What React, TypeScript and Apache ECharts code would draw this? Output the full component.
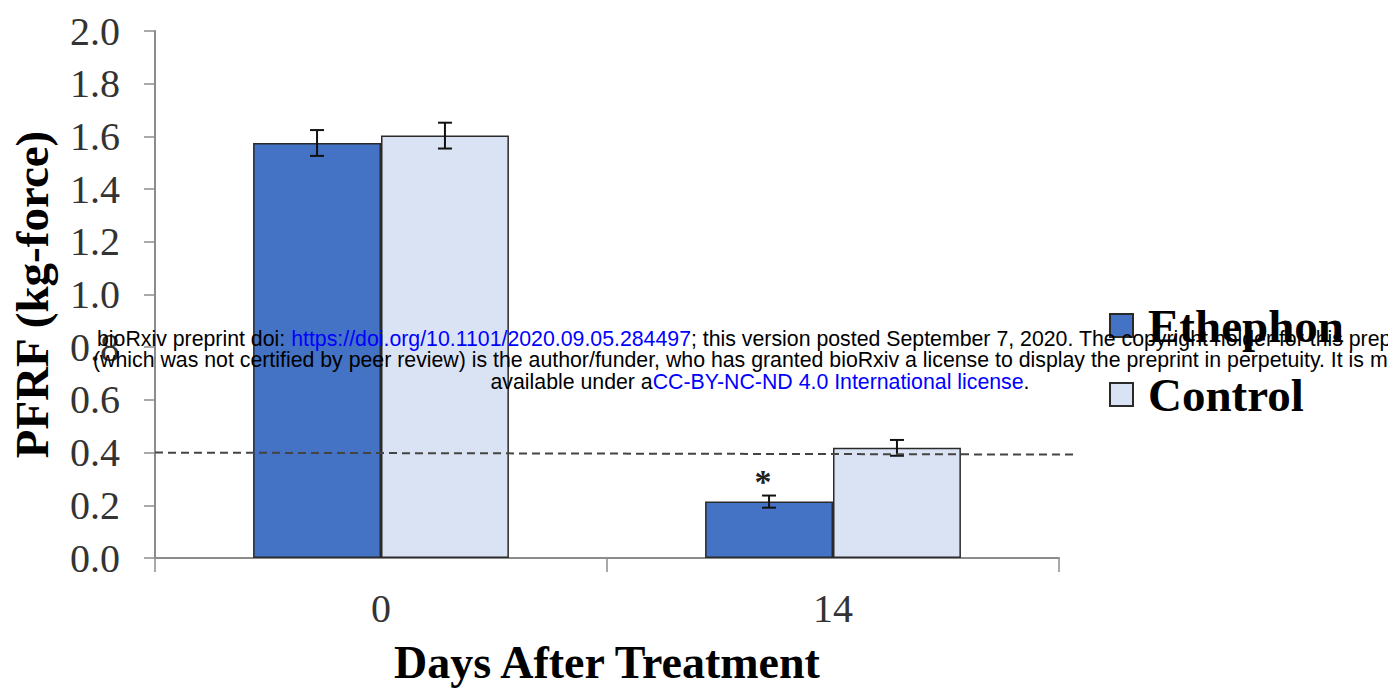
import React, { useEffect, useRef } from "react";
import * as echarts from "echarts";

const categories = ["0", "14"];
const seriesNames = ["Ethephon", "Control"];
const ethephon = [1.575, 0.214];
const control = [1.603, 0.418];
const ethephonErr = [0.049, 0.023];
const controlErr = [0.049, 0.03];
const ethephonSig = ["", "*"];
const controlSig = ["", ""];
const threshold = 0.4;
const yTicks = [0, 0.2, 0.4, 0.6, 0.8, 1.0, 1.2, 1.4, 1.6, 1.8, 2.0];

const W = 1388;
const H = 689;
const GRID = { left: 155, right: 329, top: 31, bottom: 131 };
const BAR_FRAC = 0.283;
const SERIF = "'Liberation Serif', 'Times New Roman', serif";
const SANS = "'Liberation Sans', Arial, sans-serif";
const NOTE_SIZE = 21.3;

const errSeries = (vals: number[], errs: number[], sig: string[], side: number) => ({
  type: "custom",
  z: 5,
  silent: true,
  data: vals.map((v, i) => [i, v, errs[i]]),
  renderItem: (params: any, api: any) => {
    const ci = api.value(0);
    const v = api.value(1);
    const e = api.value(2);
    const s = sig[params.dataIndex];
    const catW = api.size([1, 0])[0];
    const bw = catW * BAR_FRAC;
    const x = api.coord([ci, v])[0] + side * bw / 2;
    const yt = api.coord([ci, v + e])[1];
    const yb = api.coord([ci, v - e])[1];
    const cap = 7;
    const st = { stroke: "#111", lineWidth: 2 };
    const children: any[] = [
      { type: "line", shape: { x1: x, y1: yt, x2: x, y2: yb }, style: st },
      { type: "line", shape: { x1: x - cap, y1: yt, x2: x + cap, y2: yt }, style: st },
      { type: "line", shape: { x1: x - cap, y1: yb, x2: x + cap, y2: yb }, style: st },
    ];
    if (s) {
      children.push({
        type: "text",
        style: {
          text: s,
          x: x - 6,
          y: yt + 3,
          align: "center",
          verticalAlign: "bottom",
          fontSize: 34,
          fontWeight: "bold",
          fontFamily: SERIF,
          fill: "#222",
        },
      });
    }
    return { type: "group", children };
  },
});

export default function App() {
  const ref = useRef<HTMLDivElement>(null);
  useEffect(() => {
    if (!ref.current) return;
    const chart = echarts.init(ref.current, undefined, { renderer: "svg" });
    const barBase = {
      type: "bar",
      barWidth: BAR_FRAC * 100 + "%",
      barGap: "0%",
    };
    chart.setOption({
      animation: false,
      backgroundColor: "#fff",
      grid: { ...GRID, containLabel: false, outerBoundsMode: "none" },
      legend: {
        orient: "vertical",
        left: 1109,
        top: 302,
        padding: 0,
        data: seriesNames,
        icon: "rect",
        itemWidth: 23,
        itemHeight: 23,
        itemGap: 22,
        textStyle: {
          fontFamily: SERIF,
          fontWeight: "bold",
          fontSize: 47,
          lineHeight: 47,
          color: "#000",
          padding: [0, 0, 0, 10],
        },
      },
      xAxis: {
        type: "category",
        data: categories,
        axisLine: { lineStyle: { color: "#8c8c8c", width: 2 } },
        axisTick: { show: true, length: 14, lineStyle: { color: "#8c8c8c", width: 1.5 } },
        axisLabel: { fontFamily: SERIF, fontSize: 40, color: "#333", margin: 30 },
        name: "Days After Treatment",
        nameLocation: "middle",
        nameGap: 81,
        nameTextStyle: { fontFamily: SERIF, fontWeight: "bold", fontSize: 46, color: "#000" },
      },
      yAxis: {
        type: "value",
        min: yTicks[0],
        max: yTicks[yTicks.length - 1],
        interval: 0.2,
        axisLine: { show: true, lineStyle: { color: "#8c8c8c", width: 2 } },
        axisTick: { show: true, length: 11, lineStyle: { color: "#8c8c8c", width: 1.5 } },
        splitLine: { show: false },
        axisLabel: {
          fontFamily: SERIF,
          fontSize: 40,
          color: "#333",
          margin: 35,
          formatter: (v: number) => v.toFixed(1),
        },
        name: "PFRF (kg-force)",
        nameLocation: "middle",
        nameRotate: 90,
        nameGap: 100,
        nameTextStyle: { fontFamily: SERIF, fontWeight: "bold", fontSize: 47, color: "#000" },
      },
      series: [
        {
          ...barBase,
          name: seriesNames[0],
          data: ethephon,
          itemStyle: { color: "#4472C4", borderColor: "#2a2a2a", borderWidth: 1.5 },
        },
        {
          ...barBase,
          name: seriesNames[1],
          data: control,
          itemStyle: { color: "#DAE3F3", borderColor: "#2a2a2a", borderWidth: 1.5 },
        },
        errSeries(ethephon, ethephonErr, ethephonSig, -1),
        errSeries(control, controlErr, controlSig, 1),
      ],
    });
    const yT = chart.convertToPixel({ yAxisIndex: 0 }, threshold) as number;
    const richStyles = {
      k: { fill: "#000", fontFamily: SANS, fontSize: NOTE_SIZE },
      b: { fill: "#0000ff", fontFamily: SANS, fontSize: NOTE_SIZE },
    };
    chart.setOption({
      graphic: [
        {
          type: "line",
          z: 10,
          silent: true,
          shape: { x1: GRID.left, y1: yT, x2: W - GRID.right + 18, y2: yT + 2 },
          style: { stroke: "#444", lineWidth: 2, lineDash: [8, 5] },
        },
        {
          type: "text",
          z: 20,
          x: 97,
          y: 339,
          style: {
            text: "{k|bioRxiv preprint doi: }{b|https://doi.org/10.1101/2020.09.05.284497}{k|; this version posted September 7, 2020. The copyright holder for this preprint}",
            fontFamily: SANS,
            fontSize: NOTE_SIZE,
            verticalAlign: "middle",
            rich: richStyles,
          },
        },
        {
          type: "text",
          z: 20,
          x: 93,
          y: 360,
          style: {
            text: "(which was not certified by peer review) is the author/funder, who has granted bioRxiv a license to display the preprint in perpetuity. It is made",
            fontFamily: SANS,
            fontSize: NOTE_SIZE,
            fill: "#000",
            verticalAlign: "middle",
          },
        },
        {
          type: "text",
          z: 20,
          x: 760,
          y: 382,
          style: {
            text: "{k|available under a}{b|CC-BY-NC-ND 4.0 International license}{k|.}",
            fontFamily: SANS,
            fontSize: NOTE_SIZE,
            align: "center",
            verticalAlign: "middle",
            rich: richStyles,
          },
        },
      ],
    });
    return () => chart.dispose();
  }, []);
  return (
    <div
      ref={ref}
      style={{ position: "absolute", left: 0, top: 0, width: W, height: H }}
    />
  );
}
